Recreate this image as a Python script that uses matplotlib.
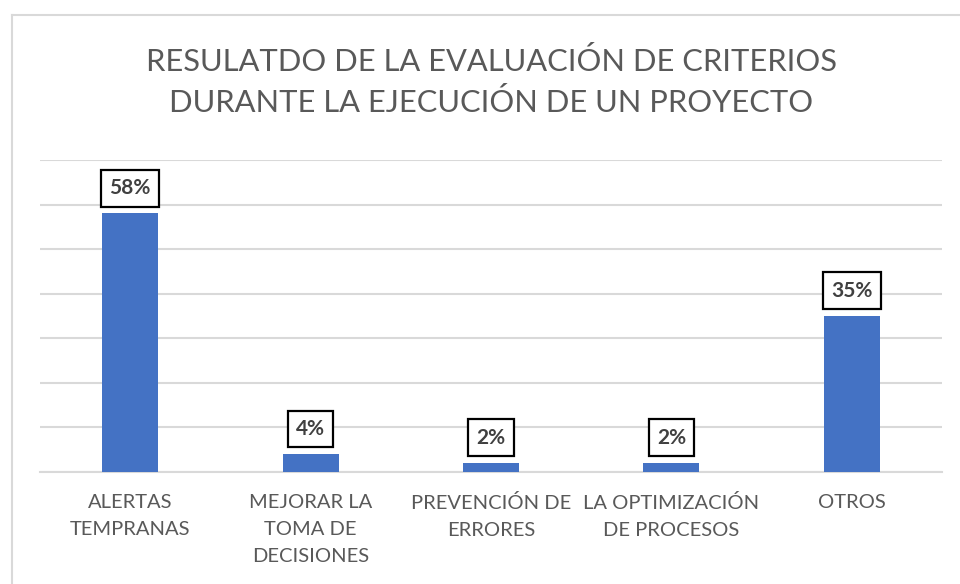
import matplotlib
matplotlib.use("Agg")
import matplotlib.pyplot as plt
from matplotlib.lines import Line2D

categories = ["ALERTAS\nTEMPRANAS", "MEJORAR LA\nTOMA DE\nDECISIONES", "PREVENCIÓN DE\nERRORES",
              "LA OPTIMIZACIÓN\nDE PROCESOS", "OTROS"]
values = [58, 4, 2, 2, 35]
labels = ["58%", "4%", "2%", "2%", "35%"]
title = "RESULATDO DE LA EVALUACIÓN DE CRITERIOS\nDURANTE LA EJECUCIÓN DE UN PROYECTO"

plt.rcParams['font.family'] = ['Lato', 'DejaVu Sans']
W, H = 960, 584
fig = plt.figure(figsize=(9.6, 5.84), dpi=100)
fig.patch.set_facecolor("white")

# outer frame (top and left visible)
fig.add_artist(Line2D([11.5/W, 11.5/W], [0, 1 - 14.5/H], transform=fig.transFigure, color="#D9D9D9", lw=1.5))
fig.add_artist(Line2D([11.5/W, 1], [1 - 14.5/H, 1 - 14.5/H], transform=fig.transFigure, color="#D9D9D9", lw=1.5))

ax = fig.add_axes([40/W, (H-472)/H, (942-40)/W, (472-160)/H])
x = list(range(len(values)))
ax.bar(x, values, width=0.31, color="#4472C4", zorder=3)
ax.set_xlim(-0.5, len(values) - 0.5)
ax.set_ylim(0, 70)
ax.set_yticks(range(0, 71, 10))
ax.yaxis.grid(True, color="#D9D9D9", lw=1.5)
ax.set_axisbelow(True)
ax.tick_params(axis='y', left=False, labelleft=False)
ax.tick_params(axis='x', length=0, pad=16, labelsize=14.5, labelcolor="#595959")
ax.set_xticks(x)
ax.set_xticklabels(categories, linespacing=1.7, va="top")
for s in ["top", "right", "left"]:
    ax.spines[s].set_visible(False)
ax.spines["bottom"].set_color("#D9D9D9")
ax.spines["bottom"].set_linewidth(1.5)

for xi, v, lab in zip(x, values, labels):
    ax.annotate(lab, (xi, v), xytext=(0, 11), textcoords="offset points", ha="center", va="bottom",
                fontsize=15, fontweight="bold", color="#404040",
                bbox=dict(boxstyle="square,pad=0.4", fc="white", ec="black", lw=1.6), zorder=5)

fig.text(491/W, 1 - 82/H, title, ha="center", va="center", fontsize=22.2, color="#595959", linespacing=1.5)

fig.savefig("out.png", dpi=100)
